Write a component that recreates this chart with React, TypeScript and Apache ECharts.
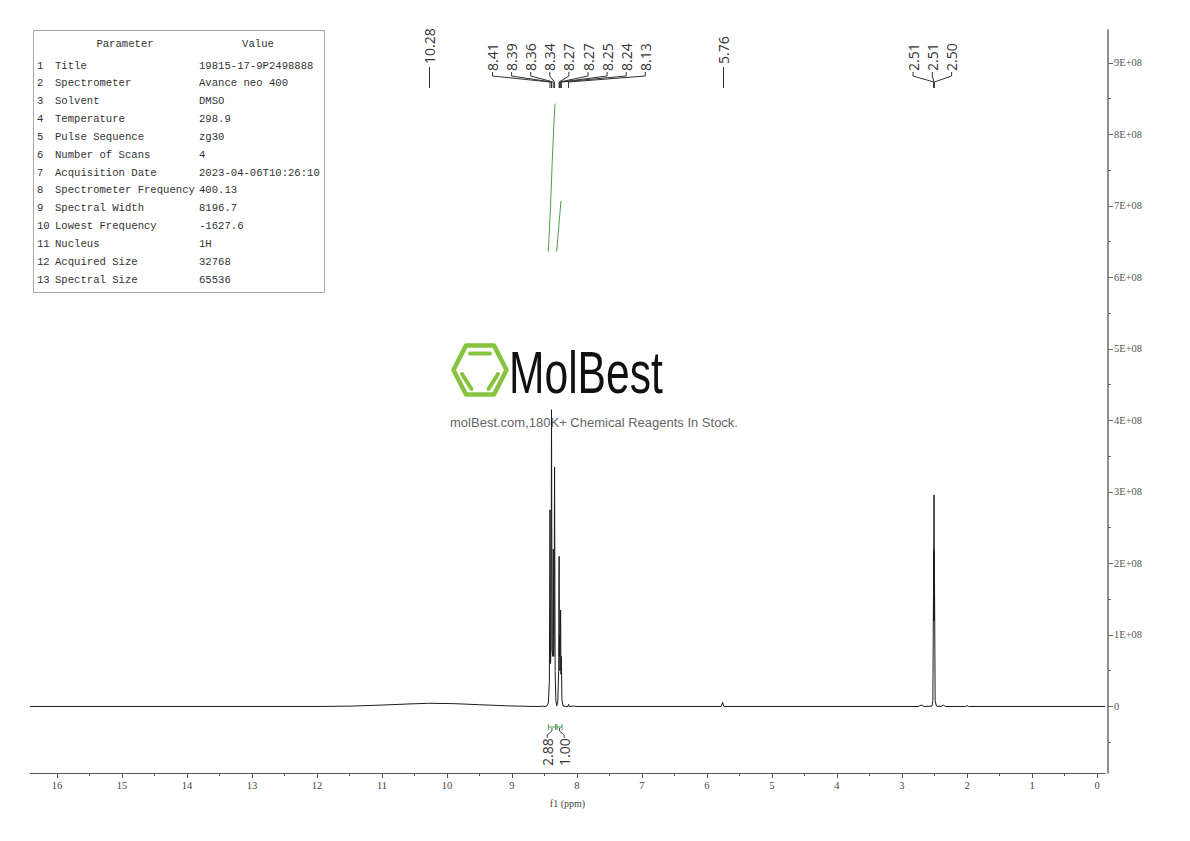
import React, { useEffect, useRef } from "react";
import * as echarts from "echarts";

// ---------- axis ticks ----------
const xMajorTicks = [0, 1, 2, 3, 4, 5, 6, 7, 8, 9, 10, 11, 12, 13, 14, 15, 16];
const xMinorTicks = [0.5, 1.5, 2.5, 3.5, 4.5, 5.5, 6.5, 7.5, 8.5, 9.5, 10.5, 11.5, 12.5, 13.5, 14.5, 15.5];
const yMajorTicks = [0, 1e8, 2e8, 3e8, 4e8, 5e8, 6e8, 7e8, 8e8, 9e8];
const yMinorTicks = [-0.5e8, 0.5e8, 1.5e8, 2.5e8, 3.5e8, 4.5e8, 5.5e8, 6.5e8, 7.5e8, 8.5e8];
const X_MIN = -0.123;
const X_MAX = 16.415;
const Y_MIN = -0.93e8;
const Y_MAX = 9.46e8;

// ---------- spectrum (ppm, intensity) ----------
const humpPoints: [number, number][] = [
  [16.415, 0], [12.0, 0], [11.5, 0.005e8], [11.0, 0.02e8], [10.6, 0.035e8], [10.28, 0.045e8],
  [9.9, 0.04e8], [9.5, 0.025e8], [9.1, 0.01e8], [8.8, 0.003e8], [8.6, 0],
];
const aromaticPoints: [number, number][] = [
  [8.52, 0.004e8], [8.49, 0], [8.46, 0.012e8], [8.44, 0.05e8], [8.425, 0.35e8], [8.415, 2.75e8],
  [8.407, 0.6e8], [8.4, 0.8e8], [8.392, 4.15e8], [8.383, 0.8e8], [8.372, 0.7e8], [8.365, 2.2e8],
  [8.358, 0.7e8], [8.352, 0.9e8], [8.345, 3.35e8], [8.336, 0.5e8], [8.325, 0.08e8], [8.31, 0.01e8],
  [8.295, 0.08e8], [8.282, 0.5e8], [8.275, 2.1e8], [8.271, 0.7e8], [8.268, 1.0e8], [8.262, 0.5e8],
  [8.252, 1.35e8], [8.246, 0.45e8], [8.24, 0.7e8], [8.232, 0.1e8], [8.215, 0.01e8], [8.18, 0],
  [8.14, 0], [8.13, 0.03e8], [8.12, 0], [8.05, 0.006e8], [8.0, 0],
];
const minorPoints: [number, number][] = [
  [5.78, 0], [5.76, 0.06e8], [5.74, 0],
];
const solventPoints: [number, number][] = [
  [2.75, 0], [2.7, 0.02e8], [2.66, 0], [2.54, 0.005e8], [2.525, 0.08e8], [2.512, 2.2e8],
  [2.51, 1.2e8], [2.507, 2.96e8], [2.505, 1.2e8], [2.502, 2.15e8], [2.49, 0.08e8], [2.47, 0.005e8],
  [2.4, 0], [2.365, 0.02e8], [2.33, 0], [2.02, 0], [2.0, 0.015e8], [1.98, 0], [-0.123, 0],
];

// integral curves (ppm, intensity-axis position)
const integralCurve1: [number, number][] = [
  [8.441, 6.36e8], [8.405, 7.04e8], [8.38, 7.64e8], [8.354, 8.16e8], [8.338, 8.43e8],
];
const integralCurve2: [number, number][] = [
  [8.312, 6.36e8], [8.272, 6.8e8], [8.246, 7.07e8],
];
const integralRanges: [number, number][] = [[8.44, 8.33], [8.31, 8.23]];
const integralValues = ["2.88", "1.00"];

// peak labels
const singlePeakLabels = [10.28, 5.76];
const multiplet1Labels = [8.41, 8.39, 8.36, 8.34, 8.27, 8.27, 8.25, 8.24, 8.13];
const multiplet1Peaks = [8.415, 8.392, 8.365, 8.345, 8.275, 8.268, 8.252, 8.24, 8.13];
const multiplet2Labels = [2.51, 2.51, 2.5];
const multiplet2Peaks = [2.512, 2.507, 2.502];

// parameter table
const tableIndex = ["1", "2", "3", "4", "5", "6", "7", "8", "9", "10", "11", "12", "13"];
const tableParams = [
  "Title", "Spectrometer", "Solvent", "Temperature", "Pulse Sequence", "Number of Scans",
  "Acquisition Date", "Spectrometer Frequency", "Spectral Width", "Lowest Frequency",
  "Nucleus", "Acquired Size", "Spectral Size",
];
const tableValues = [
  "19815-17-9P2498888", "Avance neo 400", "DMSO", "298.9", "zg30", "4",
  "2023-04-06T10:26:10", "400.13", "8196.7", "-1627.6", "1H", "32768", "65536",
];

const GREEN = "#4f9f4f";
const LOGO_GREEN = "#86c440";
const LABEL_FONT = "'Open Sans', 'Noto Sans', sans-serif";
const TABLE_FONT = "'Liberation Mono', 'DejaVu Sans Mono', monospace";
const SERIF = "'Liberation Serif', 'DejaVu Serif', serif";

function fmt2(v: number) {
  return v.toFixed(2);
}

export default function App() {
  const ref = useRef<HTMLDivElement>(null);

  useEffect(() => {
    const chart = echarts.init(ref.current!, null, { renderer: "svg" });
    const spectrum = [...humpPoints, ...aromaticPoints, ...minorPoints, ...solventPoints].sort(
      (a, b) => b[0] - a[0]
    );

    const commonX = { type: "value", min: X_MIN, max: X_MAX, inverse: true, position: "bottom", splitLine: { show: false } };
    const commonY = { type: "value", min: Y_MIN, max: Y_MAX, position: "right", offset: 3, splitLine: { show: false } };

    chart.setOption({
      animation: false,
      backgroundColor: "#ffffff",
      grid: { left: 30, right: 85, top: 30, bottom: 68 },
      xAxis: [
        {
          ...commonX,
          axisLine: { show: true, onZero: false, lineStyle: { color: "#555", width: 1 } },
          axisTick: { show: true, customValues: xMajorTicks, length: 5, lineStyle: { color: "#555" } },
          axisLabel: {
            show: true, customValues: xMajorTicks, formatter: (v: number) => String(v),
            fontFamily: SERIF, fontSize: 10.5, color: "#444", margin: 7,
          },
          name: "f1 (ppm)", nameLocation: "middle", nameGap: 25,
          nameTextStyle: { fontFamily: SERIF, fontSize: 10, color: "#444" },
        },
        {
          ...commonX,
          axisLine: { show: false, onZero: false },
          axisTick: { show: true, customValues: xMinorTicks, length: 3, lineStyle: { color: "#555" } },
          axisLabel: { show: false },
        },
      ],
      yAxis: [
        {
          ...commonY,
          axisLine: { show: true, onZero: false, lineStyle: { color: "#6a6a6a", width: 1.5 } },
          axisTick: { show: true, customValues: yMajorTicks, length: 5, lineStyle: { color: "#666" } },
          axisLabel: {
            show: true, customValues: yMajorTicks,
            formatter: (v: number) => (v === 0 ? "0" : `${Math.round(v / 1e8)}E+08`),
            fontFamily: SERIF, fontSize: 10.5, color: "#555", margin: 6,
          },
        },
        {
          ...commonY,
          axisLine: { show: false, onZero: false },
          axisTick: { show: true, customValues: yMinorTicks, length: 3, lineStyle: { color: "#666" } },
          axisLabel: { show: false },
        },
      ],
      series: [
        {
          type: "line", name: "spectrum", data: spectrum, showSymbol: false, symbol: "none",
          xAxisIndex: 0, yAxisIndex: 0, lineStyle: { color: "#1c1c1c", width: 1 }, z: 3,
        },
        {
          type: "line", name: "integral1", data: integralCurve1, showSymbol: false, symbol: "none",
          xAxisIndex: 0, yAxisIndex: 0, lineStyle: { color: GREEN, width: 1 }, z: 3,
        },
        {
          type: "line", name: "integral2", data: integralCurve2, showSymbol: false, symbol: "none",
          xAxisIndex: 0, yAxisIndex: 0, lineStyle: { color: GREEN, width: 1 }, z: 3,
        },
      ],
    });

    const px = (v: number) => chart.convertToPixel({ xAxisIndex: 0 }, v) as number;

    const g: any[] = [];
    const labelStyle = (text: string) => ({
      text, fontFamily: LABEL_FONT, fontSize: 14, fill: "#333", align: "left", verticalAlign: "middle",
    });

    // ----- watermark -----
    const cx = 480, cy = 370;
    g.push({
      type: "polygon", z: 0,
      shape: { points: [[cx - 26.5, cy], [cx - 14, cy - 24.5], [cx + 14, cy - 24.5], [cx + 26.5, cy], [cx + 14, cy + 24.5], [cx - 14, cy + 24.5]] },
      style: { fill: "none", stroke: LOGO_GREEN, lineWidth: 4.5, lineJoin: "round" },
    });
    g.push({ type: "line", z: 0, shape: { x1: cx - 10, y1: cy - 16.5, x2: cx + 10, y2: cy - 16.5 }, style: { stroke: LOGO_GREEN, lineWidth: 4, lineCap: "round" } });
    g.push({ type: "line", z: 0, shape: { x1: cx - 18, y1: cy + 4, x2: cx - 8.5, y2: cy + 19 }, style: { stroke: LOGO_GREEN, lineWidth: 4, lineCap: "round" } });
    g.push({ type: "line", z: 0, shape: { x1: cx + 18, y1: cy + 4, x2: cx + 8.5, y2: cy + 19 }, style: { stroke: LOGO_GREEN, lineWidth: 4, lineCap: "round" } });
    g.push({
      type: "text", z: 0, x: 509, y: 372, scaleX: 0.71,
      style: { text: "MolBest", fontFamily: "'Liberation Sans', Arial, sans-serif", fontSize: 60, fill: "#111", align: "left", verticalAlign: "middle" },
    });
    g.push({
      type: "text", z: 0, x: 594, y: 422,
      style: { text: "molBest.com,180K+ Chemical Reagents In Stock.", fontFamily: "'Liberation Sans', Arial, sans-serif", fontSize: 13, fill: "#666", align: "center", verticalAlign: "middle" },
    });

    // ----- parameter table -----
    g.push({ type: "rect", z: 5, shape: { x: 33.5, y: 30.5, width: 291, height: 262 }, style: { fill: "#fff", stroke: "#a8a8a8", lineWidth: 1 } });
    const tStyle = (text: string, align = "left") => ({ text, fontFamily: TABLE_FONT, fontSize: 10.6, fill: "#333", align, verticalAlign: "middle" });
    g.push({ type: "text", z: 6, x: 125, y: 44, style: tStyle("Parameter", "center") });
    g.push({ type: "text", z: 6, x: 258, y: 44, style: tStyle("Value", "center") });
    tableIndex.forEach((idx, i) => {
      const y = 65.5 + i * 17.85;
      g.push({ type: "text", z: 6, x: 37, y, style: tStyle(idx) });
      g.push({ type: "text", z: 6, x: 55, y, style: tStyle(tableParams[i]) });
      g.push({ type: "text", z: 6, x: 199, y, style: tStyle(tableValues[i]) });
    });

    // ----- single peak labels -----
    singlePeakLabels.forEach((p) => {
      const x = Math.round(px(p)) + 0.5;
      g.push({ type: "line", z: 6, shape: { x1: x, y1: 67, x2: x, y2: 88 }, style: { stroke: "#333", lineWidth: 1 } });
      g.push({ type: "text", z: 6, x, y: 64, rotation: Math.PI / 2, style: labelStyle(fmt2(p)) });
    });

    // ----- multiplet labels -----
    const drawMultiplet = (labels: number[], peaks: number[], startX: number, step: number) => {
      labels.forEach((l, i) => {
        const lx = startX + i * step;
        const pxk = px(peaks[i]);
        g.push({ type: "text", z: 6, x: lx, y: 71, rotation: Math.PI / 2, style: labelStyle(fmt2(l)) });
        g.push({
          type: "polyline", z: 6,
          shape: { points: [[lx, 72], [lx, 76], [pxk, 82], [pxk, 88]] },
          style: { stroke: "#333", lineWidth: 1, fill: "none" },
        });
      });
    };
    drawMultiplet(multiplet1Labels, multiplet1Peaks, 492.5, 19.1);
    drawMultiplet(multiplet2Labels, multiplet2Peaks, 913, 19.3);

    // ----- integral marks -----
    const centers = integralRanges.map(([a, b]) => (px(a) + px(b)) / 2);
    const groupCenter = (centers[0] + centers[centers.length - 1]) / 2;
    integralRanges.forEach(([a, b], i) => {
      const x1 = px(a), x2 = px(b);
      g.push({ type: "line", z: 6, shape: { x1, y1: 727, x2, y2: 727 }, style: { stroke: GREEN, lineWidth: 1 } });
      g.push({ type: "line", z: 6, shape: { x1, y1: 724, x2: x1, y2: 730 }, style: { stroke: GREEN, lineWidth: 1 } });
      g.push({ type: "line", z: 6, shape: { x1: x2, y1: 724, x2, y2: 730 }, style: { stroke: GREEN, lineWidth: 1 } });
      const lx = groupCenter + (i - (integralRanges.length - 1) / 2) * 17;
      g.push({
        type: "polyline", z: 6,
        shape: { points: [[centers[i], 728], [centers[i], 731], [lx, 735], [lx, 738]] },
        style: { stroke: "#444", lineWidth: 1, fill: "none" },
      });
      g.push({ type: "text", z: 6, x: lx, y: 766, rotation: Math.PI / 2, style: labelStyle(integralValues[i]) });
    });

    chart.setOption({ graphic: g });

    return () => chart.dispose();
  }, []);

  return <div ref={ref} style={{ position: "absolute", left: 0, top: 0, width: 1190, height: 841 }} />;
}
